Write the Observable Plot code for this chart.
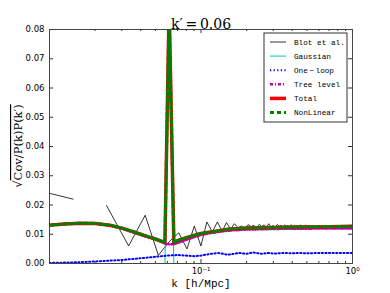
<!DOCTYPE html>
<html><head><meta charset="utf-8">
<script src="https://cdn.jsdelivr.net/npm/d3@7"></script>
<script src="https://cdn.jsdelivr.net/npm/@observablehq/plot@0.6"></script>
<style>body{margin:0;background:#fff;}</style>
</head><body><div id="chart"></div>
<script>
// ---- data ----
const kModel = [0.0100, 0.0125, 0.0160, 0.0200, 0.0250, 0.0300, 0.0370, 0.0450, 0.0500, 0.0550, 0.0578, 0.0616, 0.0662, 0.0700, 0.0800, 0.0900, 0.1000, 0.1100, 0.1200, 0.1350, 0.1500, 0.1700, 0.2000, 0.2500, 0.3000, 0.4000, 0.5000, 0.7000, 1.0000];
const totalVals = [0.0131, 0.0135, 0.0138, 0.0137, 0.0131, 0.0121, 0.0106, 0.0091, 0.0084, 0.0076, 0.0071, 0.0880, 0.0071, 0.0078, 0.0088, 0.0096, 0.0103, 0.0106, 0.0109, 0.0113, 0.0117, 0.0119, 0.0121, 0.0122, 0.0123, 0.0124, 0.0125, 0.0126, 0.0127];
const nonLinearVals = [0.0131, 0.0135, 0.0138, 0.0137, 0.0131, 0.0121, 0.0106, 0.0091, 0.0084, 0.0076, 0.0071, 0.0880, 0.0071, 0.0078, 0.0088, 0.0096, 0.0103, 0.0106, 0.0109, 0.0113, 0.0117, 0.0119, 0.0121, 0.0122, 0.0123, 0.0124, 0.0125, 0.0126, 0.0127];
const treeVals = [0.0131, 0.0135, 0.0138, 0.0137, 0.0130, 0.0120, 0.0104, 0.0089, 0.0082, 0.0073, 0.0068, 0.0066, 0.0066, 0.0070, 0.0081, 0.0090, 0.0098, 0.0102, 0.0105, 0.0109, 0.0112, 0.0114, 0.0116, 0.0117, 0.0118, 0.0119, 0.0119, 0.0120, 0.0120];
const gaussVals = [0, 0, 0, 0, 0, 0, 0, 0, 0, 0, 0, 0.0860, 0, 0, 0, 0, 0, 0, 0, 0, 0, 0, 0, 0, 0, 0, 0, 0, 0];

const kLoop = [0.010, 0.015, 0.020, 0.030, 0.040, 0.050, 0.060, 0.070, 0.080, 0.090, 0.100, 0.110, 0.120, 0.130, 0.140, 0.150, 0.160, 0.180, 0.200, 0.220, 0.250, 0.280, 0.300, 0.350, 0.400, 0.450, 0.500, 0.600, 0.700, 0.850, 1.000];
const loopVals = [0.0002, 0.0004, 0.0007, 0.0012, 0.0018, 0.0023, 0.0027, 0.0029, 0.0027, 0.0025, 0.0027, 0.0031, 0.0034, 0.0036, 0.0033, 0.0030, 0.0032, 0.0036, 0.0033, 0.0038, 0.0033, 0.0036, 0.0034, 0.0036, 0.0035, 0.0036, 0.0035, 0.0036, 0.0036, 0.0036, 0.0036];

const kBlot = [0.0048, 0.0143, 0.0190, 0.0238, 0.0333, 0.0428, 0.0523, 0.0618, 0.0713, 0.0808, 0.0903, 0.0998, 0.1093, 0.1188, 0.1283, 0.1378, 0.1473, 0.1568, 0.1663, 0.1758, 0.1853, 0.1948, 0.2043, 0.2138, 0.2233, 0.2328, 0.2423, 0.2518, 0.2613, 0.2708, 0.2803, 0.2898, 0.2993, 0.3088, 0.3183, 0.3278, 0.3373, 0.3468, 0.3563, 0.3658, 0.3753, 0.3848, 0.3943, 0.4038, 0.4133, 0.4228, 0.4323, 0.4418, 0.4513, 0.4608, 0.4703, 0.4798, 0.4893, 0.4988, 0.5083, 0.5178, 0.5273];
const blotVals = [0.0281, 0.0220, null, 0.0198, 0.0060, 0.0165, 0.0028, 0.0075, 0.0105, 0.0050, 0.0128, 0.0060, 0.0142, 0.0108, 0.0142, 0.0110, 0.0140, 0.0118, 0.0136, 0.0122, 0.0128, 0.0120, 0.0133, 0.0126, 0.0131, 0.0121, 0.0134, 0.0127, 0.0132, 0.0124, 0.0136, 0.0125, 0.0130, 0.0124, 0.0133, 0.0127, 0.0131, 0.0125, 0.0132, 0.0128, 0.0130, 0.0126, 0.0133, 0.0127, 0.0131, 0.0128, 0.0130, 0.0127, 0.0132, 0.0128, 0.0130, 0.0127, 0.0131, 0.0129, 0.0130, 0.0128, 0.0129];

const yTicks = [0, 0.01, 0.02, 0.03, 0.04, 0.05, 0.06, 0.07, 0.08];
const xMajor = [0.1, 1];
const xMinor = [0.02, 0.03, 0.04, 0.05, 0.06, 0.07, 0.08, 0.09, 0.2, 0.3, 0.4, 0.5, 0.6, 0.7, 0.8, 0.9];
const xTickLabels = {0.1: "10\u207B\u00B9", 1: "10\u2070"};
const titleText = "k\u2032\u2009=\u20090.06";
const xLabelText = "k [h/Mpc]";
const legendItems = ["Blot et al.", "Gaussian", "One\u2009\u2212\u2009loop", "Tree level", "Total", "NonLinear"];

// ---- build tables ----
const model = kModel.map((k, i) => ({k, total: totalVals[i], nl: nonLinearVals[i], tree: treeVals[i], gauss: gaussVals[i]}));
const loop = kLoop.map((k, i) => ({k, v: loopVals[i]}));
const blot = kBlot.map((k, i) => ({k, v: blotVals[i]}));

const W = 390, H = 293, mL = 49, mR = 38, mT = 29, mB = 30;
const pw = W - mL - mR, ph = H - mT - mB;
const styles = {
  blot: {stroke: "#000", strokeWidth: 0.8},
  gauss: {stroke: "#00bfbf", strokeWidth: 1},
  loop: {stroke: "#0000ff", strokeWidth: 2, strokeDasharray: "1.2,2.4"},
  tree: {stroke: "#bf00bf", strokeWidth: 2.5, strokeDasharray: "3,2,1,2"},
  total: {stroke: "#ff0000", strokeWidth: 3.5},
  nl: {stroke: "#008000", strokeWidth: 3, strokeDasharray: "4,3"}
};

const plot = Plot.plot({
  width: W, height: H,
  marginLeft: mL, marginRight: mR, marginTop: mT, marginBottom: mB,
  style: {fontFamily: "DejaVu Sans", fontSize: "8.5px", background: "white", color: "#000"},
  x: {type: "log", domain: [0.01, 1]},
  y: {domain: [0, 0.08]},
  marks: [
    Plot.line(blot, {x: "k", y: "v", ...styles.blot, clip: true}),
    Plot.line(model, {x: "k", y: "gauss", ...styles.gauss, clip: true}),
    Plot.line(loop, {x: "k", y: "v", ...styles.loop, clip: true}),
    Plot.line(model, {x: "k", y: "tree", ...styles.tree, clip: true}),
    Plot.line(model, {x: "k", y: "total", ...styles.total, clip: true}),
    Plot.line(model, {x: "k", y: "nl", ...styles.nl, clip: true}),
    // inward ticks on all four sides
    Plot.tickX(xMajor, {x: d => d, insetTop: ph - 4, stroke: "#333"}),
    Plot.tickX(xMajor, {x: d => d, insetBottom: ph - 4, stroke: "#333"}),
    Plot.tickX(xMinor, {x: d => d, insetTop: ph - 2, stroke: "#333"}),
    Plot.tickX(xMinor, {x: d => d, insetBottom: ph - 2, stroke: "#333"}),
    Plot.tickY(yTicks, {y: d => d, insetRight: pw - 4, stroke: "#333"}),
    Plot.tickY(yTicks, {y: d => d, insetLeft: pw - 4, stroke: "#333"}),
    Plot.axisX({ticks: xMajor, tickSize: 0, tickPadding: 4, tickFormat: d => xTickLabels[d], fontSize: 8.5, label: null}),
    Plot.axisY({ticks: yTicks, tickSize: 0, tickPadding: 5, tickFormat: d3.format(".2f"), fontSize: 8.5, label: null}),
    Plot.frame({stroke: "#444"}),
    Plot.text([titleText], {text: d => d, frameAnchor: "top", dy: -10, fontSize: 14, fontFamily: "DejaVu Serif"}),
    Plot.text([xLabelText], {text: d => d, frameAnchor: "bottom", dy: 23, fontSize: 11, fontFamily: "Liberation Mono"})
  ]
});
document.getElementById("chart").appendChild(plot);

// ---- y label with radical overline ----
const svg = d3.select(plot);
const yl = svg.append("text")
  .attr("transform", `translate(22,${mT + ph / 2}) rotate(-90)`)
  .attr("text-anchor", "middle")
  .attr("font-family", "DejaVu Serif")
  .attr("font-size", 11.5);
yl.append("tspan").text("\u221A");
yl.append("tspan").style("text-decoration", "overline").text("Cov/P(k)P(k\u2032)");

// ---- legend ----
const lx = 264, ly = 33, lw = 83, lh = 89, rowH = 14.1;
const lg = svg.append("g");
lg.append("rect").attr("x", lx).attr("y", ly).attr("width", lw).attr("height", lh)
  .attr("fill", "white").attr("stroke", "#333").attr("stroke-width", 1);
const keys = ["blot", "gauss", "loop", "tree", "total", "nl"];
legendItems.forEach((name, i) => {
  const y = ly + 9 + i * rowH;
  const s = styles[keys[i]];
  lg.append("line").attr("x1", lx + 6).attr("x2", lx + 22).attr("y1", y).attr("y2", y)
    .attr("stroke", s.stroke).attr("stroke-width", s.strokeWidth)
    .attr("stroke-dasharray", s.strokeDasharray || null);
  lg.append("text").attr("x", lx + 30).attr("y", y).attr("dy", "0.35em")
    .attr("text-anchor", "start")
    .attr("font-family", "Liberation Mono").attr("font-size", 7.7).text(name);
});
</script></body></html>
